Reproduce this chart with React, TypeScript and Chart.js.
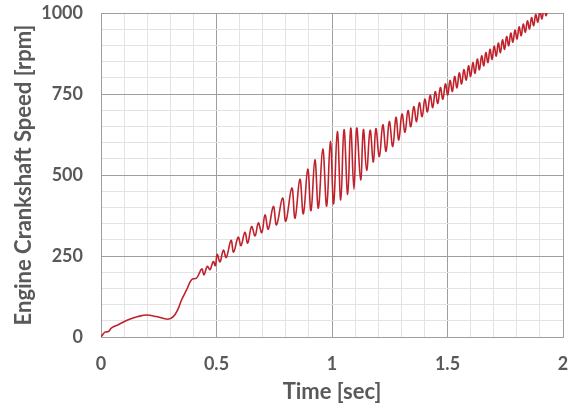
import { useEffect, useRef } from 'react';
import { Chart, registerables } from 'chart.js';

Chart.register(...registerables);

const timeSec = [
  0, 0.008, 0.017, 0.032, 0.046, 0.075, 0.118, 0.16, 0.198, 0.24, 0.29, 0.313, 0.332, 0.349, 0.371, 0.392, 0.414,
  0.436, 0.446, 0.46, 0.472, 0.486, 0.495, 0.503, 0.515, 0.53, 0.542, 0.563, 0.574, 0.594, 0.606, 0.623, 0.635,
  0.652, 0.667, 0.681, 0.696, 0.71, 0.724, 0.746, 0.76, 0.786, 0.8, 0.826, 0.84, 0.861, 0.876, 0.895, 0.909,
  0.926, 0.941, 0.96, 0.977, 0.993, 1.007, 1.023, 1.038, 1.052, 1.068, 1.081, 1.095, 1.107, 1.124, 1.136, 1.15,
  1.165, 1.179, 1.19, 1.205, 1.22, 1.234, 1.248, 1.263, 1.277, 1.289, 1.303, 1.316, 1.329, 1.341, 1.354, 1.366,
  1.378, 1.39, 1.402, 1.413, 1.425, 1.436, 1.447, 1.458, 1.469, 1.48, 1.491, 1.501, 1.511, 1.521, 1.531, 1.541,
  1.551, 1.561, 1.571, 1.581, 1.591, 1.6, 1.61, 1.619, 1.629, 1.638, 1.648, 1.657, 1.666, 1.675, 1.684, 1.693,
  1.702, 1.711, 1.72, 1.729, 1.738, 1.747, 1.756, 1.765, 1.774, 1.783, 1.792, 1.801, 1.81, 1.819, 1.828, 1.837,
  1.846, 1.855, 1.864, 1.873, 1.882, 1.891, 1.9, 1.909, 1.918, 1.927, 1.936,
];

const speedRpm = [
  0, 8, 15, 17, 28, 38, 53, 63, 68, 63, 55, 63, 84, 115, 146, 177, 182,
  210, 192, 218, 208, 233, 220, 255, 232, 268, 245, 298, 262, 308, 282, 323, 290,
  341, 312, 352, 322, 377, 333, 403, 346, 429, 357, 460, 367, 487, 380, 518, 390,
  547, 398, 580, 404, 603, 411, 634, 423, 640, 440, 645, 456, 645, 485, 640, 514,
  638, 540, 643, 557, 655, 573, 665, 588, 678, 608, 688, 632, 699, 649, 711, 665,
  723, 680, 734, 695, 746, 708, 757, 721, 770, 734, 781, 747, 792, 758, 804, 769,
  815, 781, 825, 793, 837, 804, 847, 814, 858, 825, 868, 837, 878, 847, 888, 857,
  898, 867, 907, 878, 917, 888, 927, 899, 938, 910, 947, 920, 957, 930, 966, 941,
  976, 951, 986, 961, 995, 972, 1005, 982, 1015, 992, 1025,
];

const xTickLabels = ['0', '0.5', '1', '1.5', '2'];
const yTickLabels = ['0', '250', '500', '750', '1000'];

const MAJOR = '#9e9e9e';
const MINOR = '#e3e3e3';
const TEXT = '#595959';

function isMajor(v: number, step: number) {
  const r = v / step;
  return Math.abs(r - Math.round(r)) < 1e-6;
}

export default function App() {
  const ref = useRef<HTMLCanvasElement | null>(null);

  useEffect(() => {
    if (!ref.current) return;
    const points = timeSec.map((t, i) => ({ x: t, y: speedRpm[i] }));
    const chart = new Chart(ref.current, {
      type: 'line',
      data: {
        datasets: [
          {
            data: points,
            borderColor: '#c0222c',
            borderWidth: 1.6,
            pointRadius: 0,
            tension: 0.4,
            fill: false,
          },
        ],
      },
      options: {
        animation: false,
        responsive: false,
        devicePixelRatio: 1,
        layout: { padding: { top: 13, right: 10, left: 0, bottom: 0 } },
        plugins: { legend: { display: false }, tooltip: { enabled: false } },
        scales: {
          x: {
            type: 'linear',
            min: 0,
            max: 2,
            afterFit: (s: any) => {
              s.height = 69;
              s.paddingLeft = 0;
              s.paddingRight = 0;
            },
            ticks: {
              stepSize: 0.1,
              autoSkip: false,
              maxRotation: 0,
              padding: 16,
              color: TEXT,
              font: { family: 'Lato', size: 18, weight: 'bold' },
              callback: (v: any) => (isMajor(Number(v), 0.5) ? xTickLabels[Math.round(Number(v) / 0.5)] : ''),
            },
            grid: {
              drawTicks: false,
              color: (c: any) => (isMajor(c.tick.value, 0.5) ? MAJOR : MINOR),
              lineWidth: 1,
            },
            border: { display: true, color: MAJOR },
            title: {
              display: true,
              text: 'Time [sec]',
              color: TEXT,
              font: { family: 'Lato', size: 22, weight: 'bold' },
              padding: { top: 0, bottom: 1 },
            },
          },
          y: {
            type: 'linear',
            min: 0,
            max: 1000,
            afterFit: (s: any) => {
              s.width = 101;
              s.paddingTop = 0;
              s.paddingBottom = 0;
            },
            ticks: {
              stepSize: 50,
              autoSkip: false,
              padding: 18,
              color: TEXT,
              font: { family: 'Lato', size: 18, weight: 'bold' },
              callback: (v: any) => (isMajor(Number(v), 250) ? yTickLabels[Math.round(Number(v) / 250)] : ''),
            },
            grid: {
              drawTicks: false,
              color: (c: any) => (isMajor(c.tick.value, 250) ? MAJOR : MINOR),
              lineWidth: 1,
            },
            border: { display: true, color: MAJOR },
            title: {
              display: true,
              text: 'Engine Crankshaft Speed [rpm]',
              color: TEXT,
              font: { family: 'Lato', size: 22, weight: 'bold' },
              padding: { top: 11, bottom: 0 },
            },
          },
        },
      },
    });
    return () => chart.destroy();
  }, []);

  return (
    <div style={{ position: 'fixed', left: 0, top: 0, width: 573, height: 406, background: '#fff' }}>
      <canvas ref={ref} width={573} height={406} />
    </div>
  );
}
